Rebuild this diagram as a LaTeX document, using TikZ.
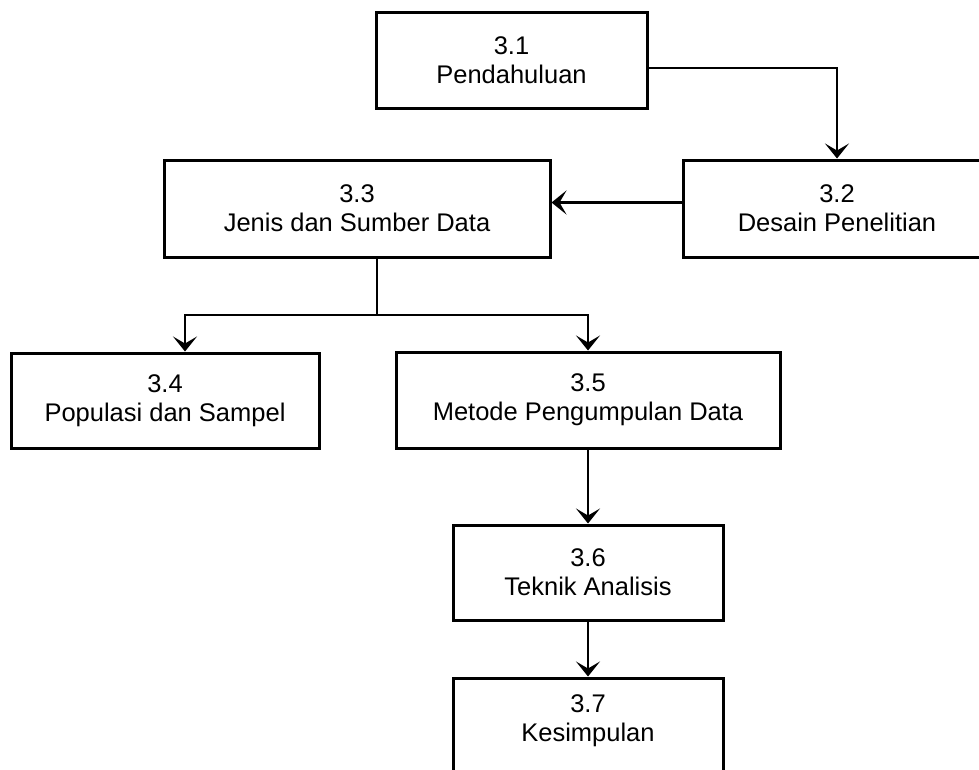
\documentclass[tikz,border=0pt]{standalone}
\usepackage{fontspec}
\setmainfont{Liberation Sans}
\usetikzlibrary{arrows.meta}
\begin{document}
\begin{tikzpicture}[x=1pt,y=-1pt,
  box/.style={draw, line width=3pt, inner sep=0pt, align=center,
    font=\fontsize{25.5}{29}\selectfont},
  lbl/.style={inner sep=0pt, align=center, font=\fontsize{25.5}{29}\selectfont},
  conn/.style={line width=2.2pt},
  arr/.style={line width=2.2pt, -{Stealth[length=15pt,width=24pt,inset=7pt]}}]
\useasboundingbox (0,0) rectangle (979,769);
\fill[white] (0,0) rectangle (979,769);
\clip (0,0) rectangle (979,769);
\node[box, minimum width=271pt, minimum height=96pt] (b1) at (511.5,60) {3.1\\Pendahuluan};
\node[box, minimum width=308pt, minimum height=97pt] (b2) at (837,208.5) {3.2\\Desain Penelitian};
\node[box, minimum width=386pt, minimum height=97pt] (b3) at (357,208.5) {3.3\\Jenis dan Sumber Data};
\node[box, minimum width=308pt, minimum height=95pt] (b4) at (165,400.5) {3.4\\Populasi dan Sampel};
\node[box, minimum width=384pt, minimum height=96pt] (b5) at (588,400) {3.5\\Metode Pengumpulan Data};
\node[box, minimum width=270pt, minimum height=95pt] (b6) at (588,572.5) {3.6\\Teknik Analisis};
\node[box, minimum width=270pt, minimum height=104pt] (b7) at (588,730) {};
\node[lbl] (t7) at (588,721) {3.7\\Kesimpulan};
\coordinate (j) at (377,315);
\draw[arr] ([yshift=-8pt]b1.east) -| (b2);
\draw[arr] ([yshift=6pt]b2.west) -- ([yshift=6pt]b3.east);
\draw[conn] (b3.south -| j) -- (j);
\draw[arr] (j) -| ([xshift=20pt]b4.north);
\draw[arr] (j) -| (b5.north);
\draw[arr] (b5) -- (b6);
\draw[arr] (b6) -- (b7);
\end{tikzpicture}
\end{document}
